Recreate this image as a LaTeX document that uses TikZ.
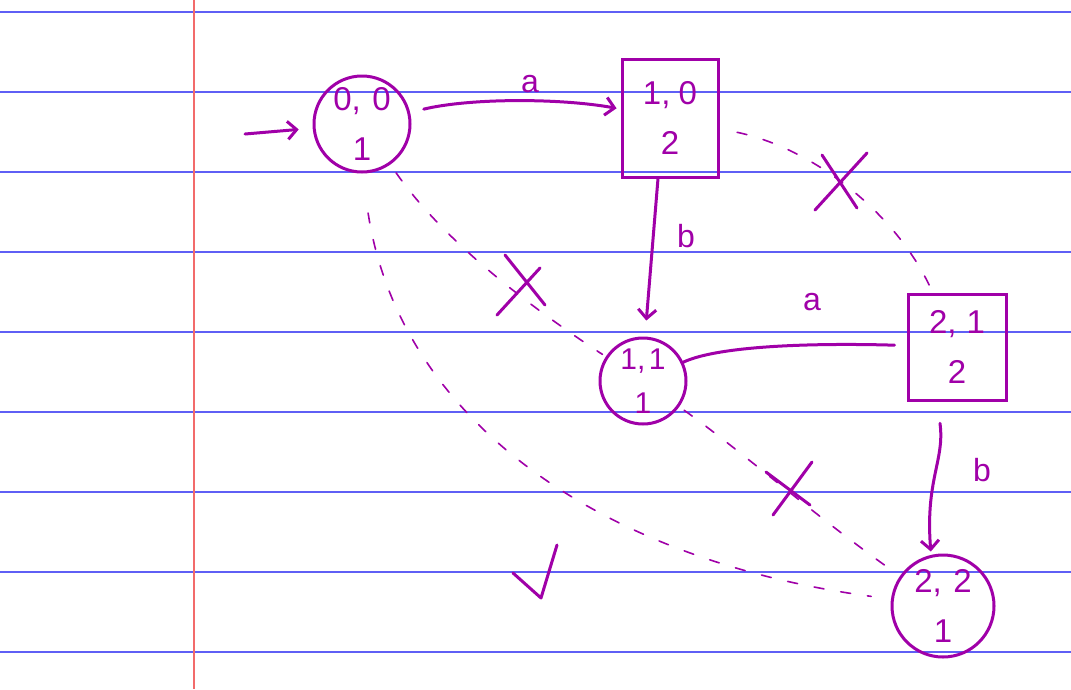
\documentclass[tikz,border=0pt]{standalone}
\usepackage{fontspec}
\setmainfont{Liberation Sans}
\usetikzlibrary{arrows.meta}
\definecolor{ink}{HTML}{A000A8}
\definecolor{ruleblue}{HTML}{5F5FF5}
\definecolor{marginred}{HTML}{F26B6B}
\begin{document}
\begin{tikzpicture}[x=1pt,y=-1pt,
  paperline/.style={ruleblue,line width=1.4pt},
  marginline/.style={marginred,line width=1.4pt},
  statetext/.style={ink,align=center,font=\fontsize{33}{50}\selectfont},
  circstate/.style={statetext,draw=ink,line width=3pt,circle,inner sep=0pt},
  boxstate/.style={statetext,draw=ink,line width=3pt,rectangle,inner sep=0pt},
  edge/.style={ink,line width=3pt,line cap=round,-{Straight Barb[length=9pt,width=18pt,line width=3pt]}},
  plainedge/.style={ink,line width=3pt,line cap=round},
  ghost/.style={ink,line width=1.6pt,line cap=round,dash pattern=on 10pt off 17pt},
  lbl/.style={ink,font=\fontsize{32}{32}\selectfont},
  penstroke/.style={ink,line width=3pt,line cap=round,line join=round}
]
\useasboundingbox (0,0) rectangle (1071,689);
\fill[white] (0,0) rectangle (1071,689);
\foreach \yy in {12,92,172,252,332,412,492,572,652}
  \draw[paperline] (0,\yy) -- (1071,\yy);
\draw[marginline] (194,0) -- (194,689);

% states
\node[circstate,minimum size=96pt] (A) at (362,124) {0,\hspace{0.35em}0\\1};
\node[boxstate,minimum width=96pt,minimum height=118pt] (B) at (670,118) {1,\hspace{0.25em}0\\2};
\node[circstate,minimum size=86pt,font=\fontsize{30}{44}\selectfont] (C) at (643,381) {1,\hspace{0.12em}1\\1};
\node[boxstate,minimum width=98pt,minimum height=106pt] (D) at (957,347) {2,\hspace{0.3em}1\\2};
\node[circstate,minimum size=102pt] (E) at (943,606) {2,\hspace{0.35em}2\\1};

% initial arrow
\coordinate (init) at (245,134);
\draw[edge,shorten >=14pt] (init) -- (A);

% transitions
\draw[edge,shorten <=14pt,shorten >=4pt] (A) .. controls (470,98) and (560,98) .. (B);
\node[lbl] (la1) at (530,84) {a};
\draw[edge,shorten >=16pt] ([xshift=-12pt]B.south) -- ([xshift=2pt]C.north);
\node[lbl] (lb1) at (686,236) {b};
\draw[plainedge,shorten >=12pt] (C) .. controls (720,345) and (820,343) .. (D);
\node[lbl] (la2) at (812,302) {a};
\draw[edge,shorten <=22pt,shorten >=2pt] ([xshift=-20pt]D.south) .. controls (945,460) and (925,480) .. ([xshift=-12pt]E.north);
\node[lbl] (lb2) at (982,470) {b};

% dashed (rejected) transitions
\draw[ghost,shorten <=18pt,shorten >=4pt] (B) .. controls (820,150) and (900,220) .. (D);
\draw[ghost,shorten <=10pt,shorten >=4pt] (A) .. controls (450,250) and (550,320) .. (C);
\draw[ghost,shorten <=6pt,shorten >=8pt] (C) .. controls (740,450) and (820,520) .. (E);
\draw[ghost,shorten <=40pt,shorten >=20pt] (A.south) .. controls (400,420) and (600,560) .. (E);

% crosses
\draw[penstroke] (815,210) -- (867,153) (822,155) -- (857,208);
\draw[penstroke] (497,315) -- (540,268) (505,255) -- (545,305);
\draw[penstroke] (773,515) -- (812,462) (766,472) -- (810,505);

% check mark
\draw[penstroke] (513,573) -- (541,598) -- (557,545);
\end{tikzpicture}
\end{document}
